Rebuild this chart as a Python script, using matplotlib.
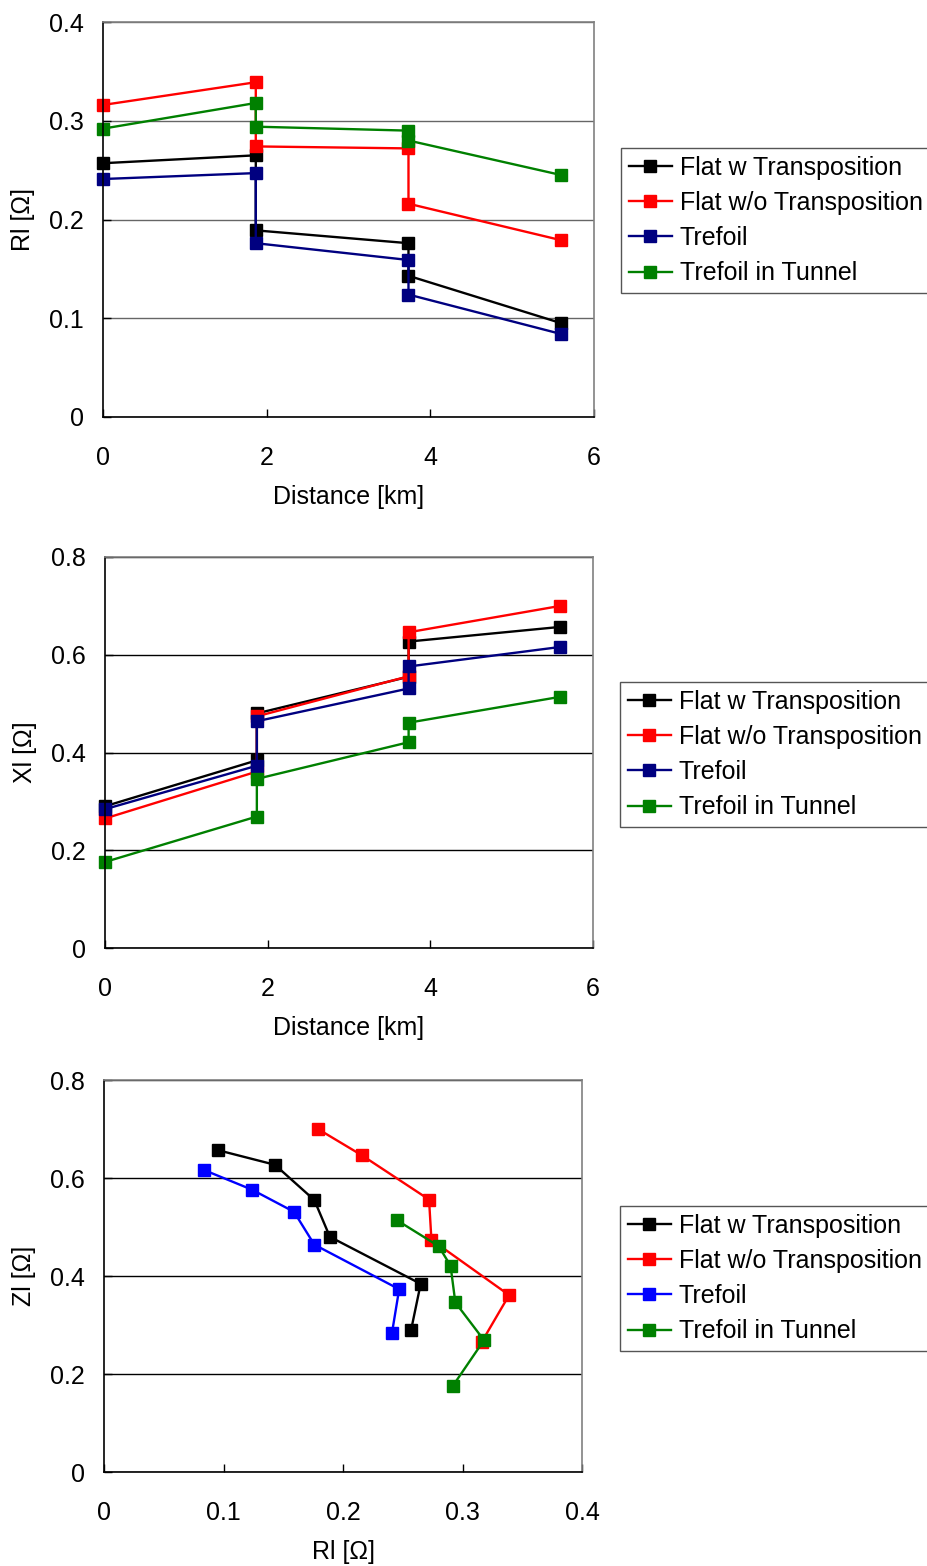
import matplotlib
matplotlib.use("Agg")
import matplotlib.pyplot as plt
import matplotlib.ticker as mtick

plt.rcParams['font.family'] = ['Liberation Sans', 'DejaVu Sans']
plt.rcParams['font.size'] = 18

# section end points along the route [km]; each joint appears twice (before / after)
dist = [0, 1.867, 1.867, 3.733, 3.733, 5.6]

labels = ['Flat w Transposition', 'Flat w/o Transposition', 'Trefoil', 'Trefoil in Tunnel']

r_flat_tr = [0.257, 0.265, 0.189, 0.176, 0.143, 0.095]
r_flat_notr = [0.316, 0.339, 0.274, 0.272, 0.216, 0.179]
r_trefoil = [0.241, 0.247, 0.176, 0.159, 0.124, 0.084]
r_tunnel = [0.292, 0.318, 0.294, 0.290, 0.280, 0.245]

x_flat_tr = [0.290, 0.384, 0.480, 0.555, 0.627, 0.657]
x_flat_notr = [0.265, 0.361, 0.474, 0.556, 0.646, 0.700]
x_trefoil = [0.284, 0.373, 0.464, 0.531, 0.576, 0.616]
x_tunnel = [0.176, 0.269, 0.346, 0.421, 0.461, 0.514]

R = [r_flat_tr, r_flat_notr, r_trefoil, r_tunnel]
X = [x_flat_tr, x_flat_notr, x_trefoil, x_tunnel]

cols_top = ['black', '#ff0000', '#000080', '#008000']
cols_bot = ['black', '#ff0000', '#0000ff', '#008000']

W, H = 928, 1566
fig = plt.figure(figsize=(W / 100, H / 100), dpi=100)


def px_axes(left, top, right, bottom):
    return fig.add_axes([left / W, 1 - bottom / H, (right - left) / W, (bottom - top) / H])


def style(ax, gridcol):
    for s in ['top', 'right']:
        ax.spines[s].set_color('#808080')
        ax.spines[s].set_linewidth(1.2)
    for s in ['left', 'bottom']:
        ax.spines[s].set_color('black')
        ax.spines[s].set_linewidth(1.2)
    ax.tick_params(direction='in', length=5.5, width=1, top=False, right=False)
    ax.tick_params(axis='x', pad=21)
    ax.tick_params(axis='y', pad=14)
    ax.yaxis.grid(True, color=gridcol, linewidth=1)
    ax.set_axisbelow(True)
    fmt = mtick.FuncFormatter(lambda v, p: '%g' % round(v, 3))
    ax.xaxis.set_major_formatter(fmt)
    ax.yaxis.set_major_formatter(fmt)


def legend(handles, x, y):
    leg = fig.legend(handles, labels, loc='upper left', bbox_to_anchor=(x / W, 1 - y / H),
                     fancybox=False, framealpha=1, edgecolor='#555555',
                     handlelength=1.75, handletextpad=0.3, labelspacing=0.45,
                     borderpad=0.3, borderaxespad=0, fontsize=18)
    leg.get_frame().set_linewidth(1)


def series(ax, xs, ys, cols):
    hs = []
    for xv, yv, c in zip(xs, ys, cols):
        h, = ax.plot(xv, yv, color=c, lw=1.7, marker='s', ms=8.5, mec=c, mfc=c, clip_on=False)
        hs.append(h)
    return hs

# 1: resistance vs distance
ax1 = px_axes(103, 22, 594, 417)
hs = series(ax1, [dist] * 4, R, cols_top)
ax1.set_xlim(0, 6)
ax1.set_ylim(0, 0.4)
ax1.set_xticks([0, 2, 4, 6])
ax1.set_yticks([0, 0.1, 0.2, 0.3, 0.4])
style(ax1, '#666666')
ax1.set_xlabel('Distance [km]', labelpad=11)
ax1.set_ylabel('Rl [Ω]', labelpad=10)
legend(hs, 621, 148)

# 2: reactance vs distance
ax2 = px_axes(105, 557, 593, 948)
hs = series(ax2, [dist] * 4, X, cols_top)
ax2.set_xlim(0, 6)
ax2.set_ylim(0, 0.8)
ax2.set_xticks([0, 2, 4, 6])
ax2.set_yticks([0, 0.2, 0.4, 0.6, 0.8])
style(ax2, 'black')
ax2.set_xlabel('Distance [km]', labelpad=11)
ax2.set_ylabel('Xl [Ω]', labelpad=10)
legend(hs, 620, 682)

# 3: impedance locus
ax3 = px_axes(104, 1080, 582, 1472)
hs = series(ax3, R, X, cols_bot)
ax3.set_xlim(0, 0.4)
ax3.set_ylim(0, 0.8)
ax3.set_xticks([0, 0.1, 0.2, 0.3, 0.4])
ax3.set_yticks([0, 0.2, 0.4, 0.6, 0.8])
style(ax3, 'black')
ax3.set_xlabel('Rl [Ω]', labelpad=11)
ax3.set_ylabel('Zl [Ω]', labelpad=10)
legend(hs, 620, 1206)

fig.savefig('out.png', dpi=100)
